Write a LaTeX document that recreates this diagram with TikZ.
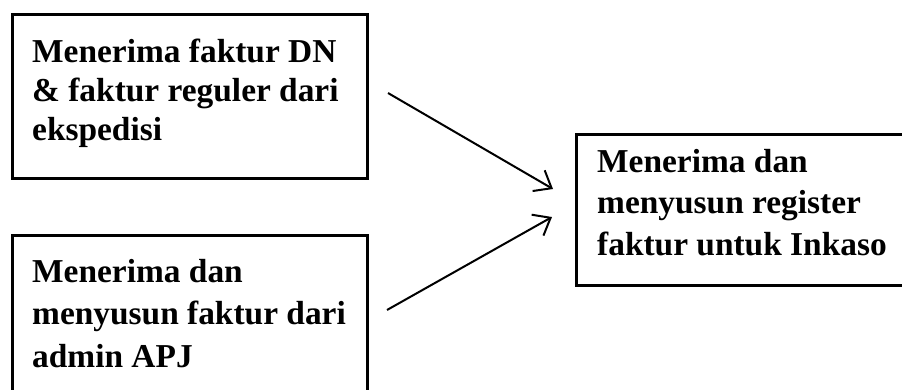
\documentclass[tikz,border=0pt]{standalone}
\usepackage{fontspec}
\setmainfont{Liberation Serif}
\usetikzlibrary{arrows.meta}
\begin{document}
\begin{tikzpicture}[x=1pt,y=-1pt,
  box/.style={draw=black,line width=2.6pt,inner sep=0pt,anchor=north west},
  txt/.style={anchor=base west,align=left,inner sep=0pt},
  flow/.style={line width=2pt,-{Straight Barb[length=15pt,width=24pt,line width=2pt]}}]
\useasboundingbox (0,0) rectangle (902,389);
\clip (0,0) rectangle (902,389);
\node[box,minimum width=355pt,minimum height=164pt] (b1) at (11,13) {};
\node[box,minimum width=355pt,minimum height=175pt] (b2) at (11,234) {};
\node[box,minimum width=345pt,minimum height=151pt] (b3) at (575,133) {};
\node[txt,font=\bfseries\fontsize{33.4}{39}\selectfont] (t1) at (32,140) {Menerima faktur DN\\\& faktur reguler dari\\ekspedisi};
\node[txt,font=\bfseries\fontsize{33.4}{42.5}\selectfont] (t2) at (32,367) {Menerima dan\\menyusun faktur dari\\admin APJ};
\node[txt,font=\bfseries\fontsize{33.4}{41.5}\selectfont] (t3) at (597,255) {Menerima dan\\menyusun register\\faktur untuk Inkaso};
\coordinate (a1s) at (388,93);
\coordinate (a1e) at (553,189);
\coordinate (a2s) at (387,310);
\coordinate (a2e) at (552,217);
\draw[flow] (a1s) -- (a1e);
\draw[flow] (a2s) -- (a2e);
\end{tikzpicture}
\end{document}
